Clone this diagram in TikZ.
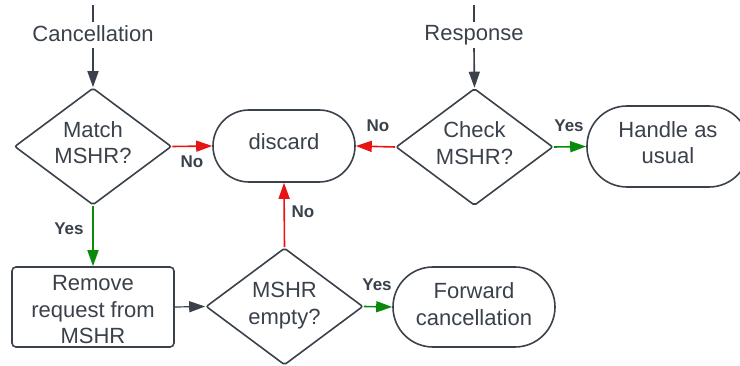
\documentclass[tikz,border=0pt]{standalone}
\usepackage{fontspec}
\setmainfont{Liberation Sans}
\usetikzlibrary{shapes.geometric,arrows.meta}
\definecolor{ink}{HTML}{3A414A}
\definecolor{nored}{HTML}{E81414}
\definecolor{yesgreen}{HTML}{0A8A0A}
\begin{document}
\begin{tikzpicture}[x=1pt,y=-1pt,
  every node/.style={text=ink, font=\fontsize{22}{26.5}\selectfont, align=center},
  box/.style={draw=ink, line width=1.6pt, inner sep=0pt},
  dec/.style={box, shape=diamond, minimum width=157pt, minimum height=117pt, rounded corners=2pt},
  stadium/.style={box, rounded corners=36pt, minimum width=#1, minimum height=72pt},
  rbox/.style={box, rounded corners=4pt, minimum width=162pt, minimum height=80pt},
  txt/.style={inner sep=0pt, yshift=4pt},
  conn/.style={line width=1.6pt, -{Triangle[length=16pt,width=11pt]}},
  plain/.style={line width=1.6pt},
  lbl/.style={font=\fontsize{17}{18}\selectfont\bfseries, text=ink, inner sep=0pt},
  inlabel/.style={inner sep=0pt, minimum height=26pt}
]
\useasboundingbox (0,0) rectangle (740,366);
\clip (0,0) rectangle (740,366);

% inputs
\coordinate (ctop) at (93,5);
\node[inlabel] (cancel) at (93,35) {\raisebox{2pt}{Cancellation}};
\coordinate (rtop) at (474,5);
\node[inlabel] (resp) at (474,35) {\raisebox{2pt}{Response}};

% shapes
\node[dec] (match) at (93,146.5) {};
\node[stadium=142pt] (discard) at (284,146) {};
\node[dec] (check) at (474.5,147) {};
\node[box, rounded corners=40pt, minimum width=162pt, minimum height=81pt] (handle) at (668,146.5) {};
\node[rbox] (remove) at (93,307) {};
\node[dec] (empty) at (284.5,306.5) {};
\node[box, rounded corners=40pt, minimum width=162pt, minimum height=80pt] (forward) at (474,307) {};

% texts
\node[txt] (matchT) at (match) {Match\\MSHR?};
\node[txt] (discardT) at (discard) {discard};
\node[txt] (checkT) at (check) {Check\\MSHR?};
\node[txt] (handleT) at (handle) {Handle as\\usual};
\node[txt, yshift=-7pt] (removeT) at (remove) {Remove\\request from\\MSHR};
\node[txt, yshift=-3pt] (emptyT) at (empty) {MSHR\\empty?};
\node[txt, yshift=-1pt] (forwardT) at (forward) {Forward\\cancellation};

% connectors
\draw[plain, ink] (ctop) -- (cancel.north);
\draw[conn, ink] (cancel.south) -- (match.north);
\draw[plain, ink] (rtop) -- (resp.north);
\draw[conn, ink] (resp.south) -- (check.north);

\draw[conn, nored] (match.east) -- (discard.west);
\node[lbl] (no1) at (192,162) {No};
\draw[conn, nored] (check.west) -- (discard.east);
\node[lbl] (no2) at (378,126) {No};
\draw[conn, yesgreen] (check.east) -- (handle.west);
\node[lbl] (yes2) at (569,126) {Yes};

\draw[conn, yesgreen] (match.south) -- (remove.north);
\node[lbl] (yes1) at (69,229) {Yes};
\draw[conn, ink, line width=1.2pt] (remove.east) -- (empty.west);
\draw[conn, nored] (empty.north) -- (discard.south);
\node[lbl] (no3) at (303,212) {No};
\draw[conn, yesgreen] (empty.east) -- (forward.west);
\node[lbl] (yes3) at (377,285) {Yes};
\end{tikzpicture}
\end{document}
